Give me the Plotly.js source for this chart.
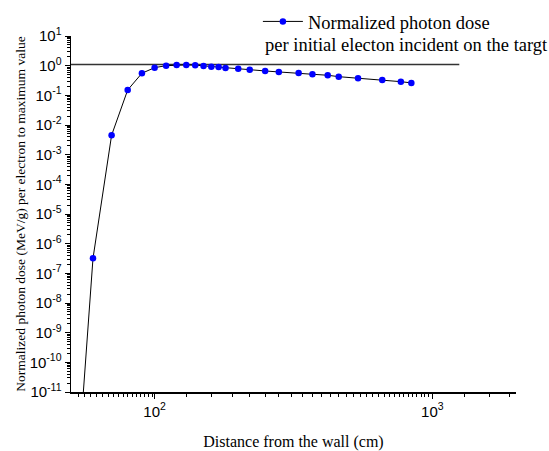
<!DOCTYPE html>
<html>
<head>
<meta charset="utf-8">
<script src="https://cdn.plot.ly/plotly-3.0.1.min.js"></script>
<style>html,body{margin:0;padding:0;background:#fff;}#chart{width:549px;height:451px;}</style>
</head>
<body>
<div id="chart"></div>
<script>
// Data
const distance = [55, 60, 70, 80, 90, 100, 110, 120, 130, 140, 150, 160, 170, 180, 200, 220, 250, 280, 330, 370, 420, 460, 540, 660, 770, 840];
const normDose = [4e-12, 3.2e-7, 4.5e-3, 0.152, 0.555, 0.857, 1.0, 1.06, 1.06, 1.04, 0.98, 0.925, 0.904, 0.837, 0.787, 0.728, 0.663, 0.614, 0.568, 0.513, 0.475, 0.426, 0.377, 0.33, 0.289, 0.262];
const refLineX = [50, 1250];
const refLineY = [1.1, 1.1];

const seriesName = 'Normalized photon dose';
const seriesName2 = 'per initial electon incident on the targt';
const xTitle = 'Distance from the wall (cm)';
const yTitle = 'Normalized photon dose (MeV/g) per electron to maximum value';

const xTickVals = [100, 1000];
const xTickText = ['10<sup>2</sup>', '10<sup>3</sup>'];
const yExponents = [-11, -10, -9, -8, -7, -6, -5, -4, -3, -2, -1, 0, 1];
const yTickVals = yExponents.map(e => Math.pow(10, e));
const yTickText = yExponents.map(e => '10<sup>' + e + '</sup>');

// minor tick positions (axis styling)
const xMinor = [];
for (let v = 53; v < 100; v += 3) xMinor.push(v);
for (let v = 130; v < 1000; v += 30) xMinor.push(v);
for (let v = 1300; v <= 2000; v += 300) xMinor.push(v);
const yMinor = [];
for (let e = -11; e < 1; e++) for (let m = 2; m <= 9; m++) yMinor.push(m * Math.pow(10, e));

const tickFont = {family: 'Liberation Sans, Arial, sans-serif', size: 15, color: '#000'};
const serif = 'Liberation Serif, Times New Roman, serif';

const traces = [
  {
    x: refLineX, y: refLineY, type: 'scatter', mode: 'lines',
    line: {color: '#333', width: 1.5}, showlegend: false, hoverinfo: 'skip'
  },
  {
    x: distance, y: normDose, type: 'scatter', mode: 'lines+markers',
    name: seriesName,
    line: {color: '#000', width: 1},
    marker: {color: '#0000ff', size: 6.5}
  }
];

const layout = {
  width: 549, height: 451,
  margin: {l: 70.6, r: 33, t: 36, b: 58.5, autoexpand: false},
  paper_bgcolor: '#fff', plot_bgcolor: '#fff',
  showlegend: true,
  legend: {x: 0.42, y: 1.093, xanchor: 'left', yanchor: 'top', itemwidth: 40,
           font: {family: serif, size: 18.5, color: '#000'}, bgcolor: 'rgba(0,0,0,0)'},
  xaxis: {
    type: 'log', range: [Math.log10(50), Math.log10(2000)], automargin: false,
    showline: true, linecolor: '#000', linewidth: 1.5, mirror: false,
    showgrid: false, zeroline: false,
    ticks: 'outside', ticklen: 5, tickwidth: 1, tickcolor: '#000',
    tickmode: 'array', tickvals: xTickVals, ticktext: xTickText, tickfont: tickFont,
    minor: {tickmode: 'array', tickvals: xMinor, ticks: 'outside', ticklen: 3, tickwidth: 1, tickcolor: '#000', showgrid: false},
    title: {text: xTitle, font: {family: serif, size: 16, color: '#000'}}
  },
  yaxis: {
    type: 'log', range: [-11, 1], automargin: false,
    showline: true, linecolor: '#000', linewidth: 1.5, mirror: false,
    showgrid: false, zeroline: false,
    ticks: 'outside', ticklen: 5, tickwidth: 1, tickcolor: '#000',
    tickmode: 'array', tickvals: yTickVals, ticktext: yTickText, tickfont: tickFont,
    minor: {tickmode: 'array', tickvals: yMinor, ticks: 'outside', ticklen: 3, tickwidth: 1, tickcolor: '#000', showgrid: false},
    title: {text: yTitle, font: {family: serif, size: 13.5, color: '#000'}}
  },
  annotations: [
    {text: seriesName2, xref: 'paper', yref: 'paper', x: 0.432, y: 0.975,
     xanchor: 'left', yanchor: 'middle', showarrow: false,
     font: {family: serif, size: 18.5, color: '#000'}}
  ]
};

Plotly.newPlot('chart', traces, layout, {displayModeBar: false, staticPlot: true});
</script>
</body>
</html>
